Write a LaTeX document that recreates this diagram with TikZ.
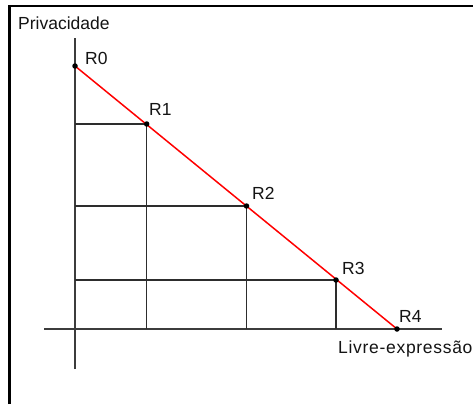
\documentclass[tikz,border=0pt]{standalone}
\usepackage{fontspec}
\setmainfont{Liberation Sans}
\begin{document}
\begin{tikzpicture}[x=1pt,y=-1pt,
  axisline/.style={draw={rgb,255:red,60;green,60;blue,60},line width=1.5pt},
  gridline/.style={draw={rgb,255:red,45;green,45;blue,45},line width=1.4pt},
  budget/.style={draw=red,line width=1.5pt},
  dot/.style={circle,fill=black,inner sep=0pt,minimum size=5.5pt},
  lbl/.style={anchor=base west,inner sep=0pt,font=\fontsize{17.5}{19}\selectfont,text={rgb,255:red,20;green,20;blue,20}}]
\useasboundingbox (0,0) rectangle (473,404);
\fill[white] (0,0) rectangle (473,404);
% frame (top and left only)
\draw[line width=2.4pt] (9.5,404) -- (9.5,6) -- (473,6);
% axes
\coordinate (O) at (75,329);
\coordinate (ytop) at (75,38);
\coordinate (ybot) at (75,369);
\coordinate (xleft) at (44,329);
\coordinate (xright) at (442,329);
\draw[axisline] (ybot) -- (ytop);
\draw[axisline] (xleft) -- (xright);
% points
\coordinate (R0) at (75,66);
\coordinate (R1) at (146.7,124);
\coordinate (R2) at (246.5,206);
\coordinate (R3) at (336,280);
\coordinate (R4) at (397,329);
% grid lines
\foreach \p in {R1,R2,R3}{
  \draw[gridline] (O |- \p) -- (\p);
  \draw[gridline] (\p) -- (\p |- O);
}
% budget line
\draw[budget] (R0) -- (R4);
\foreach \p in {R0,R1,R2,R3,R4}{ \node[dot] at (\p) {}; }
% labels
\node[lbl] (lP) at (18,30) {Privacidade};
\node[lbl] (lL) at (338,353) {\addfontfeatures{LetterSpace=4}Livre-expressão};
\node[lbl] (l0) at (85,64) {R0};
\node[lbl] (l1) at (149,115) {R1};
\node[lbl] (l2) at (252,199) {R2};
\node[lbl] (l3) at (342,274) {R3};
\node[lbl] (l4) at (399,322) {R4};
\end{tikzpicture}
\end{document}
